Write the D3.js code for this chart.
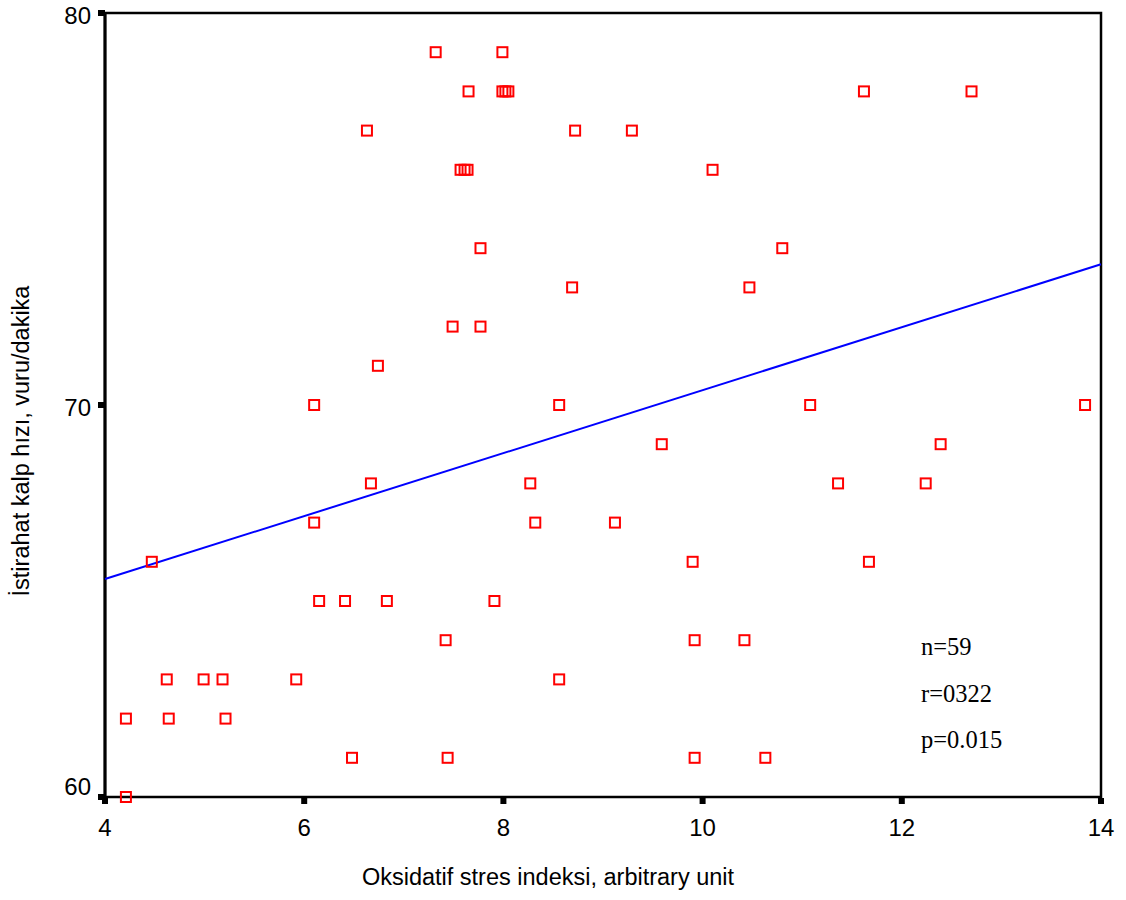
<!DOCTYPE html>
<html><head><meta charset="utf-8">
<script src="https://cdn.jsdelivr.net/npm/d3@7"></script>
<style>body{margin:0;background:#fff}</style>
</head><body><svg id="c" width="1126" height="900"></svg>
<script>
// Data
const oxStress = [4.21,4.21,4.47,4.62,4.64,4.99,5.18,5.21,5.92,6.10,6.10,6.15,6.41,6.48,6.63,6.67,6.74,6.83,
  7.32,7.42,7.44,7.49,7.57,7.61,7.64,7.65,7.77,7.77,7.91,7.99,7.99,8.02,8.05,8.27,8.32,8.56,8.56,8.69,8.72,
  9.12,9.29,9.59,9.90,9.92,9.92,10.10,10.42,10.47,10.63,10.80,11.08,11.36,11.62,11.67,12.24,12.39,12.70,13.84];
const heartRate = [60,62,66,63,62,63,63,62,63,70,67,65,65,61,77,68,71,65,
  79,64,61,72,76,76,76,78,74,72,65,79,78,78,78,68,67,70,63,73,77,
  67,77,69,66,64,61,76,64,73,61,74,70,68,78,66,68,69,78,70];
const fitX = [4,14];
const fitY = [65.56,73.59];
const xTicks = [4,6,8,10,12,14];
const yTicks = [60,70,80];
const statsLines = ["n=59","r=0322","p=0.015"];

const svg = d3.select("#c");
const L=105,R=1101,T=13,B=797;
const x = d3.scaleLinear().domain([4,14]).range([L,R]);
const y = d3.scaleLinear().domain([60,80]).range([B,T]);
const sans = "Liberation Sans, Arial, sans-serif";

// frame
svg.append("rect").attr("x",L).attr("y",T).attr("width",R-L).attr("height",B-T)
  .attr("fill","none").attr("stroke","#000").attr("stroke-width",2.5);
svg.append("line").attr("x1",L).attr("x2",L).attr("y1",T).attr("y2",B+2)
  .attr("stroke","#000").attr("stroke-width",3);

// y ticks
svg.selectAll(".yt").data(yTicks).enter().append("rect")
  .attr("x",L-7).attr("y",d=>y(d)-3).attr("width",7).attr("height",6).attr("fill","#000");
svg.selectAll(".yl").data(yTicks).enter().append("text")
  .attr("x",L-14).attr("y",d=>Math.min(y(d)+2,786)).attr("dy","0.36em")
  .attr("text-anchor","end").attr("font-family",sans)
  .attr("font-size",24).text(d=>d);
// x ticks
svg.selectAll(".xt").data(xTicks).enter().append("rect")
  .attr("x",d=>x(d)-3).attr("y",B+1).attr("width",6).attr("height",6).attr("fill","#000");
svg.selectAll(".xl").data(xTicks).enter().append("text")
  .attr("x",d=>x(d)).attr("y",836)
  .attr("text-anchor","middle").attr("font-family",sans)
  .attr("font-size",24).text(d=>d);

// axis titles
svg.append("text").attr("x",548).attr("y",885).attr("text-anchor","middle")
  .attr("font-family",sans).attr("font-size",23.5)
  .text("Oksidatif stres indeksi, arbitrary unit");
svg.append("text").attr("transform","translate(29,441) rotate(-90)").attr("text-anchor","middle")
  .attr("font-family",sans).attr("font-size",23.5)
  .text("İstirahat kalp hızı, vuru/dakika");

// regression line
svg.append("line").attr("x1",x(fitX[0])).attr("y1",y(fitY[0])).attr("x2",x(fitX[1])).attr("y2",y(fitY[1]))
  .attr("stroke","#0000ff").attr("stroke-width",2);

// points
const pts = oxStress.map((v,i)=>({x:v,y:heartRate[i]}));
svg.selectAll(".pt").data(pts).enter().append("rect")
  .attr("x",d=>x(d.x)-5).attr("y",d=>y(d.y)-5).attr("width",10).attr("height",10)
  .attr("fill","none").attr("stroke","#ff0000").attr("stroke-width",2);

// stats
svg.selectAll(".st").data(statsLines).enter().append("text")
  .attr("x",921).attr("y",(d,i)=>655+i*46.5)
  .attr("font-family","Liberation Serif, Times New Roman, serif").attr("font-size",24.5)
  .text(d=>d);
</script></body></html>
